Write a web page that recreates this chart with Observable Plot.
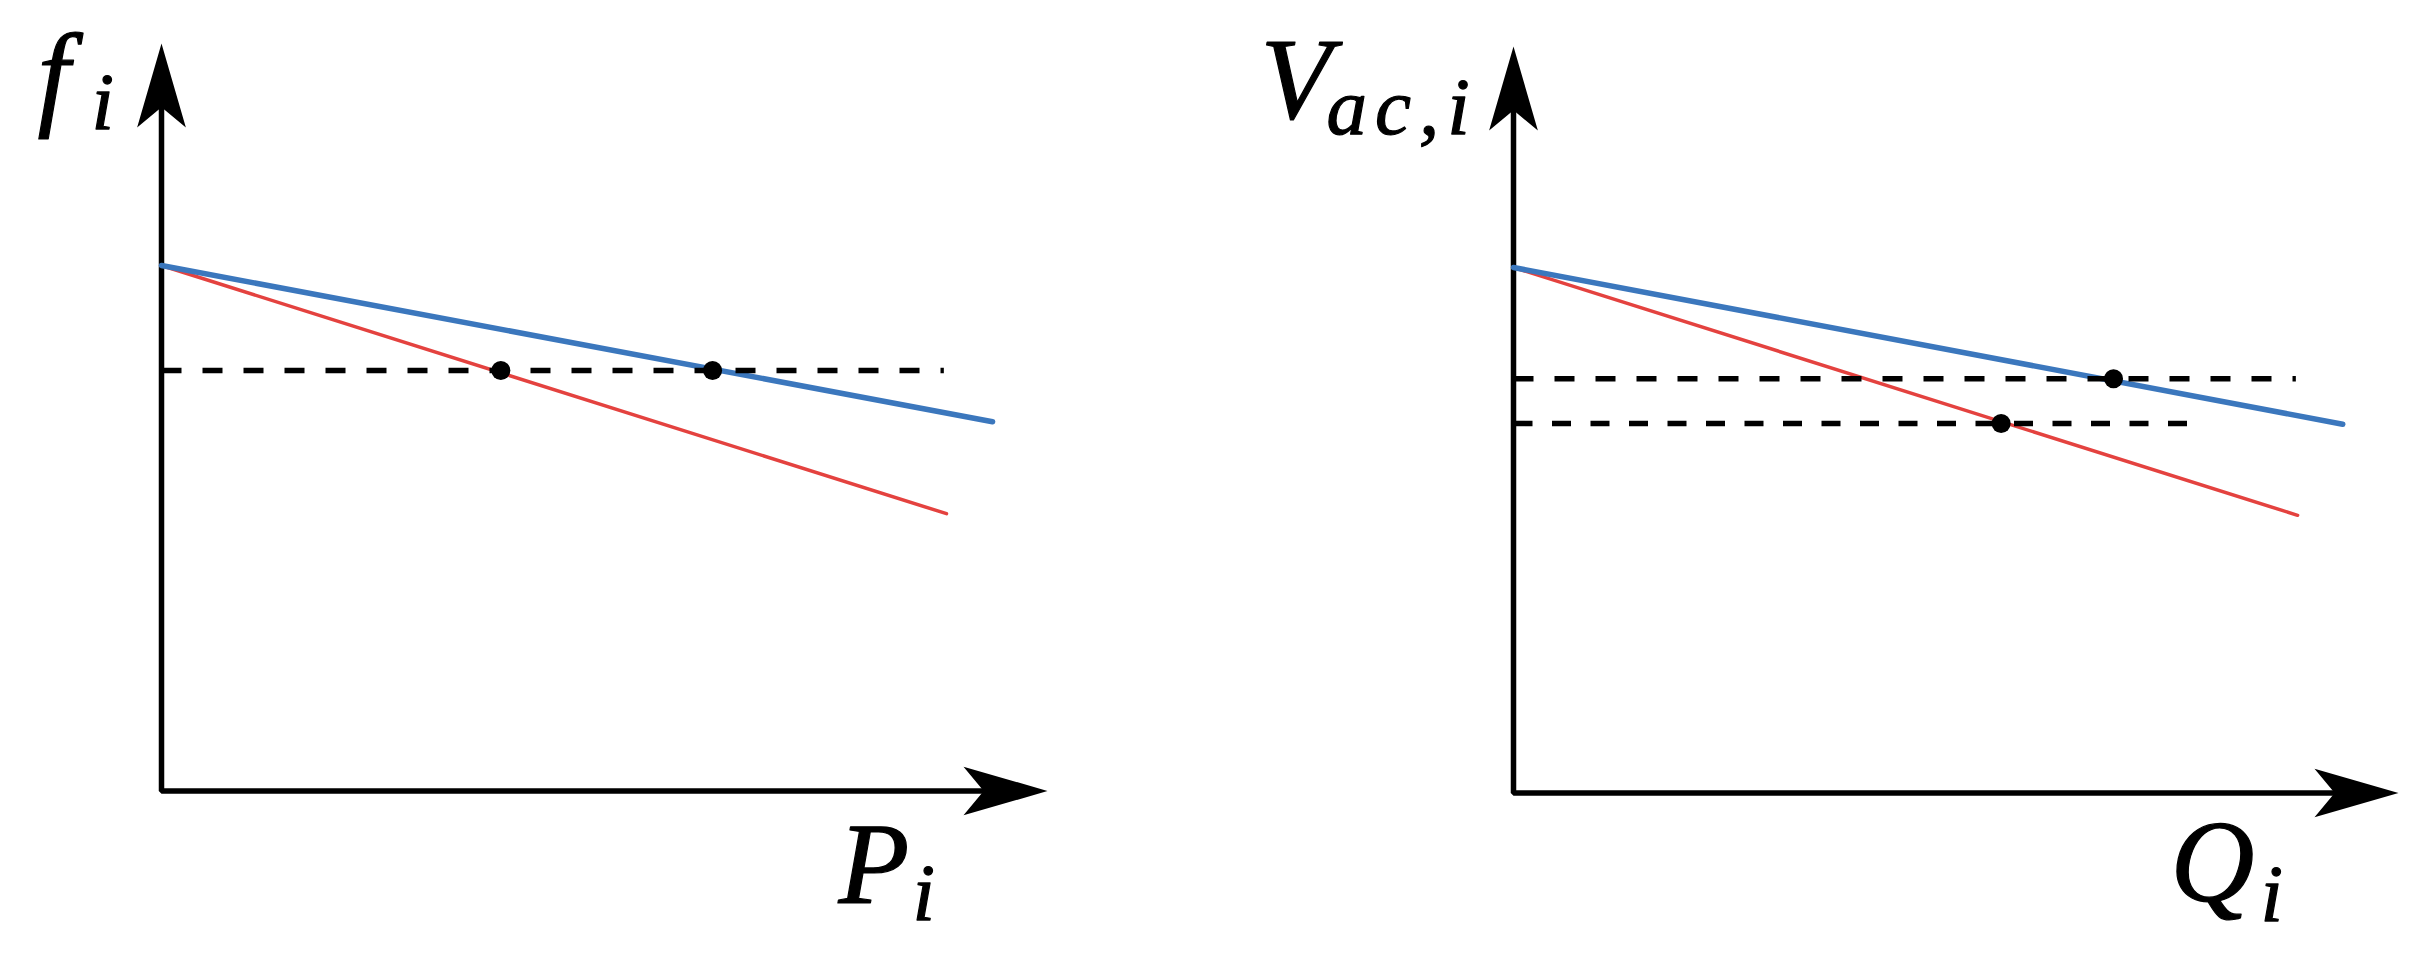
<!DOCTYPE html>
<html><head><meta charset="utf-8">
<script src="https://cdn.jsdelivr.net/npm/d3@7"></script>
<script src="https://cdn.jsdelivr.net/npm/@observablehq/plot@0.6"></script>
<style>
html,body{margin:0;padding:0;background:#fff;}
#wrap{position:relative;width:2415px;height:953px;overflow:hidden;background:#fff;}
#wrap svg{position:absolute;top:0;max-width:none;background:transparent;}
</style></head><body><div id="wrap"></div>
<script>
// ---- data (axis units 0..10, arrow tips at 10) ----
const axisMax = 10;
// Left panel: P-f droop
const fLabel = ["f", "i"];
const pLabel = ["P", "i"];
const blueP = [0, 9.38];   const blueF = [7.03, 4.94];
const redP  = [0, 8.86];   const redF  = [7.03, 3.71];
const refP  = [0, 8.83];   const refF  = [5.625, 5.625];
const opP   = [3.83, 6.22]; const opF  = [5.625, 5.625];
// Right panel: Q-V droop
const vLabel = ["V", "ac,i"];
const qLabel = ["Q", "i"];
const blueQ = [0, 9.37];   const blueV = [7.04, 4.94];
const redQ  = [0, 8.86];   const redV  = [7.04, 3.72];
const refHiQ = [0, 8.84];  const refHiV = [5.55, 5.55];
const refLoQ = [0, 7.62];  const refLoV = [4.95, 4.95];
const opQ   = [5.51, 6.78]; const opV  = [4.95, 5.55];

const BLUE = "#3b77bd", RED = "#e4423f";
const zip = (xs, ys) => xs.map((x, i) => ({x, y: ys[i]}));

const arrowUp = {draw(ctx, size){ const r = Math.sqrt(size/Math.PI);
  ctx.moveTo(0,0); ctx.lineTo(0.29*r, r); ctx.lineTo(0, 0.76*r); ctx.lineTo(-0.29*r, r); ctx.closePath(); }};
const arrowRight = {draw(ctx, size){ const r = Math.sqrt(size/Math.PI);
  ctx.moveTo(0,0); ctx.lineTo(-r, -0.29*r); ctx.lineTo(-0.76*r, 0); ctx.lineTo(-r, 0.29*r); ctx.closePath(); }};

const font = {fontFamily: "Liberation Serif", fontStyle: "italic", fill: "#000", stroke: "#000", strokeWidth: 1.2, textAnchor: "start", lineAnchor: "bottom"};

function panel(o) {
  const axisPts = [{x: 0, y: axisMax * 0.96}, {x: 0, y: 0}, {x: axisMax * 0.965, y: 0}];
  const marks = [
    Plot.line(axisPts, {x: "x", y: "y", stroke: "#000", strokeWidth: 5.5, strokeLinejoin: "miter", strokeLinecap: "butt"}),
    Plot.dot([0], {x: () => 0, y: () => axisMax, symbol: arrowUp, r: 84, fill: "#000", stroke: "none"}),
    Plot.dot([0], {x: () => axisMax, y: () => 0, symbol: arrowRight, r: 84, fill: "#000", stroke: "none"}),
    Plot.line(zip(o.redX, o.redY), {x: "x", y: "y", stroke: RED, strokeWidth: 3.5}),
    Plot.line(zip(o.blueX, o.blueY), {x: "x", y: "y", stroke: BLUE, strokeWidth: 5.5}),
    ...o.refs.map(r => Plot.line(zip(r.x, r.y), {x: "x", y: "y", stroke: "#000", strokeWidth: 5.5, strokeDasharray: r.dash, strokeLinecap: "butt"})),
    Plot.dot(zip(o.opX, o.opY), {x: "x", y: "y", r: 9.5, fill: "#000", stroke: "none"}),
    Plot.text([0], {x: () => 0, y: () => axisMax, text: () => o.yLab[0], dx: o.yPos[0], dy: o.yPos[1], fontSize: 116, ...font}),
    Plot.text([0], {x: () => 0, y: () => axisMax, text: () => o.yLab[1], dx: o.yPos[2], dy: o.yPos[3], fontSize: 81, ...font}),
    Plot.text([0], {x: () => axisMax, y: () => 0, text: () => o.xLab[0], dx: o.xPos[0], dy: o.xPos[1], fontSize: 116, ...font}),
    Plot.text([0], {x: () => axisMax, y: () => 0, text: () => o.xLab[1], dx: o.xPos[2], dy: o.xPos[3], fontSize: 81, ...font})
  ];
  const svg = Plot.plot({
    width: o.width, height: 953,
    marginLeft: o.ml, marginRight: o.mr, marginTop: o.mt, marginBottom: o.mb,
    x: {domain: [0, axisMax], axis: null},
    y: {domain: [0, axisMax], axis: null},
    marks
  });
  svg.style.left = o.left + "px";
  svg.querySelectorAll("text").forEach(t => {
    if (t.textContent.length > 1) t.style.letterSpacing = "8px";
  });
  document.getElementById("wrap").appendChild(svg);
}

panel({left: 0, width: 1207, ml: 161, mr: 160, mt: 43, mb: 162.5,
  blueX: blueP, blueY: blueF, redX: redP, redY: redF,
  refs: [{x: refP, y: refF, dash: "20,21"}],
  opX: opP, opY: opF,
  yLab: fLabel, yPos: [-124, 70, -70, 85],
  xLab: pLabel, xPos: [-209, 112, -135, 129]});

panel({left: 1207, width: 1208, ml: 306, mr: 17, mt: 46, mb: 160.5,
  blueX: blueQ, blueY: blueV, redX: redQ, redY: redV,
  refs: [{x: refHiQ, y: refHiV, dash: "20,21"}, {x: refLoQ, y: refLoV, dash: "19,19.5"}],
  opX: opQ, opY: opV,
  yLab: vLabel, yPos: [-253, 71, -187, 87],
  xLab: qLabel, xPos: [-228, 108, -138, 128]});
</script></body></html>
